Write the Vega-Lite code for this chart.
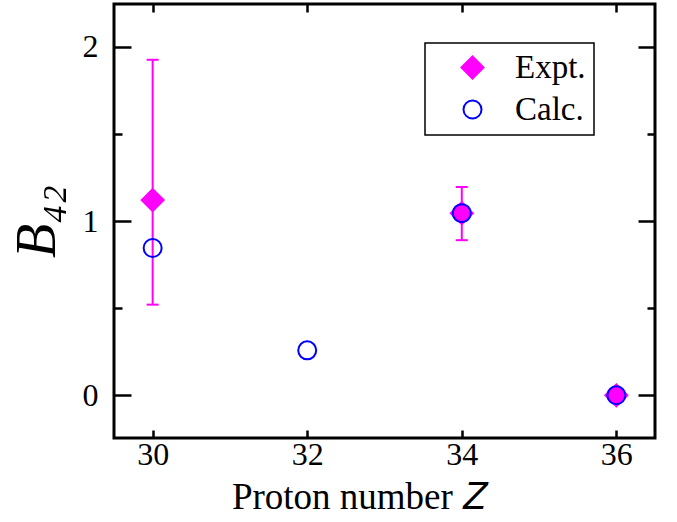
{
  "$schema": "https://vega.github.io/schema/vega-lite/v6.json",
  "width": 541,
  "height": 434,
  "autosize": {"type": "none"},
  "padding": {"left": 114, "top": 4, "right": 22, "bottom": 84},
  "background": "white",
  "config": {
    "view": {"stroke": "black", "strokeWidth": 3},
    "font": "Liberation Serif",
    "axis": {
      "domain": false,
      "grid": false,
      "labelFont": "Liberation Serif",
      "labelFontSize": 32,
      "labelColor": "black",
      "tickColor": "black",
      "tickWidth": 2.5,
      "titleFont": "Liberation Serif",
      "titleFontWeight": "normal",
      "titleColor": "black"
    },
    "legend": {
      "orient": "none",
      "legendX": 311,
      "legendY": 39,
      "strokeColor": "black",
      "strokeWidth": 1.5,
      "fillColor": "white",
      "padding": 8,
      "symbolOffset": 23,
      "labelOffset": 26,
      "rowPadding": 8,
      "labelFont": "Liberation Serif",
      "labelFontSize": 33,
      "labelColor": "black",
      "symbolStrokeWidth": 2
    }
  },
  "datasets": {
    "pts": [
      {"series": "Expt.", "Z": 30, "B": 1.12},
      {"series": "Expt.", "Z": 34, "B": 1.045},
      {"series": "Expt.", "Z": 36, "B": 0.0},
      {"series": "Calc.", "Z": 30, "B": 0.845},
      {"series": "Calc.", "Z": 32, "B": 0.258},
      {"series": "Calc.", "Z": 34, "B": 1.045},
      {"series": "Calc.", "Z": 36, "B": 0.0}
    ],
    "err": [
      {"Z": 30, "lo": 0.52, "hi": 1.925},
      {"Z": 34, "lo": 0.89, "hi": 1.195}
    ]
  },
  "layer": [
    {
      "data": {"name": "err"},
      "mark": {"type": "rule", "color": "#ff00ff", "strokeWidth": 2},
      "encoding": {
        "x": {"field": "Z", "type": "quantitative", "scale": {"domain": [29.5, 36.5], "nice": false, "zero": false},
          "axis": {"values": [30, 32, 34, 36], "tickSize": -8, "labelPadding": 9, "title": "Proton number 𝑍", "titleFontSize": 37, "titlePadding": 9, "titleX": 244}},
        "y": {"field": "lo", "type": "quantitative", "scale": {"domain": [-0.245, 2.245], "nice": false, "zero": false},
          "axis": {"values": [0, 0.5, 1, 1.5, 2], "labelExpr": "datum.value % 1 === 0 ? format(datum.value, 'd') : ''",
            "tickSize": {"condition": {"test": "datum.value % 1 === 0", "value": -17}, "value": -8},
            "labelPadding": 33, "title": "B₄₂", "titleFontSize": 56, "titleFontStyle": "italic", "titlePadding": 16}},
        "y2": {"field": "hi"}
      }
    },
    {
      "data": {"name": "err"},
      "mark": {"type": "tick", "orient": "horizontal", "color": "#ff00ff", "size": 12, "thickness": 2, "opacity": 1},
      "encoding": {
        "x": {"field": "Z", "type": "quantitative", "scale": {"domain": [29.5, 36.5], "nice": false, "zero": false}, "axis": null},
        "y": {"field": "lo", "type": "quantitative", "scale": {"domain": [-0.245, 2.245], "nice": false, "zero": false}, "axis": null}
      }
    },
    {
      "data": {"name": "err"},
      "mark": {"type": "tick", "orient": "horizontal", "color": "#ff00ff", "size": 12, "thickness": 2, "opacity": 1},
      "encoding": {
        "x": {"field": "Z", "type": "quantitative", "scale": {"domain": [29.5, 36.5], "nice": false, "zero": false}, "axis": null},
        "y": {"field": "hi", "type": "quantitative", "scale": {"domain": [-0.245, 2.245], "nice": false, "zero": false}, "axis": null}
      }
    },
    {
      "data": {"name": "pts"},
      "mark": {"type": "point", "strokeWidth": 2, "opacity": 1},
      "encoding": {
        "x": {"field": "Z", "type": "quantitative", "scale": {"domain": [29.5, 36.5], "nice": false, "zero": false}, "axis": null},
        "y": {"field": "B", "type": "quantitative", "scale": {"domain": [-0.245, 2.245], "nice": false, "zero": false}, "axis": null},
        "shape": {"field": "series", "type": "nominal", "scale": {"domain": ["Expt.", "Calc."], "range": ["diamond", "circle"]}, "legend": {"title": null}},
        "fill": {"field": "series", "type": "nominal", "scale": {"domain": ["Expt.", "Calc."], "range": ["#ff00ff", "transparent"]}, "legend": {"title": null}},
        "stroke": {"field": "series", "type": "nominal", "scale": {"domain": ["Expt.", "Calc."], "range": ["#ff00ff", "#0000ff"]}, "legend": {"title": null}},
        "size": {"field": "series", "type": "nominal", "scale": {"domain": ["Expt.", "Calc."], "range": [484, 324]}, "legend": {"title": null}}
      }
    },
    {
      "data": {"name": "pts"},
      "mark": {"type": "point", "opacity": 0},
      "encoding": {
        "x": {"field": "Z", "type": "quantitative", "scale": {"domain": [29.5, 36.5], "nice": false, "zero": false},
          "axis": {"orient": "top", "values": [30, 32, 34, 36], "tickSize": -8, "labels": false, "title": null}},
        "y": {"field": "B", "type": "quantitative", "scale": {"domain": [-0.245, 2.245], "nice": false, "zero": false},
          "axis": {"orient": "right", "values": [0, 0.5, 1, 1.5, 2], "labels": false, "title": null,
            "tickSize": {"condition": {"test": "datum.value % 1 === 0", "value": -17}, "value": -8}}}
      }
    }
  ],
  "resolve": {"axis": {"x": "independent", "y": "independent"}}
}
